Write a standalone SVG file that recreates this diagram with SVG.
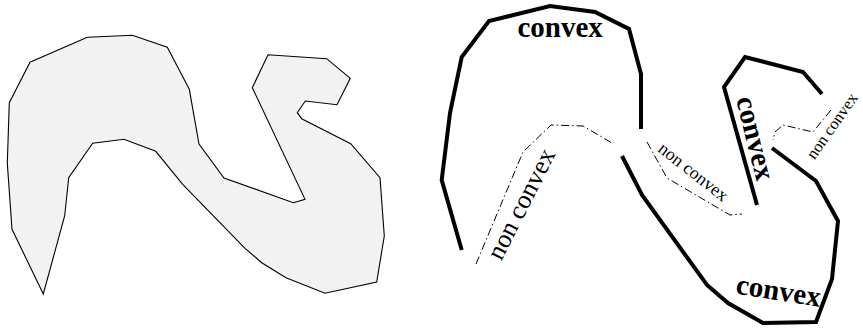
<svg xmlns="http://www.w3.org/2000/svg" width="863" height="330" viewBox="0 0 863 330">
<style>
.poly{fill:#f2f2f2;stroke:#000;stroke-width:1.1;stroke-linejoin:miter}
.thick{fill:none;stroke:#000;stroke-width:4;stroke-linejoin:miter}
.dd{fill:none;stroke:#000;stroke-width:1;stroke-dasharray:8 3 1.5 3}
.bold{font-family:"Liberation Serif","Times New Roman",serif;font-weight:bold;font-size:29px;fill:#000}
.reg{font-family:"Liberation Serif","Times New Roman",serif;font-size:18px;fill:#000}
</style>
<rect width="863" height="330" fill="#fff"/>
<g id="polygon">
<polygon class="poly" points="43.3,294 12,229.3 7.3,163.3 9.3,102.7 30,62.3 87.3,37.3 132.3,35.3 167.3,47.3 189.3,89.3 199,144 224,178 293.3,202.7 305,199.3 252.3,87.7 268,54.7 326.7,58.7 350.3,78.3 337,104.7 305.3,101 297.3,112.7 301.7,118.7 350.7,143.7 380,177.7 384.3,236 376.7,282 325,293.3 286,277.7 261.7,262.7 245,248.3 182.7,184.3 155.7,151.3 124,139.3 92.7,143.3 68.7,177.7 64.7,215.7"/>
</g>
<g id="connectors">
<polyline class="thick" points="461.7,250 441.7,180 450,113 461.7,57 489,21 550,6 595,12 629,29 641,74 641,129"/>
<polyline class="thick" points="622,156 642,195 707,285 728,303 763,323 816,322 832,279 838,221 816,181 772,148"/>
<polyline class="thick" points="757,205 724,87 745,57 803,72 822,94"/>
<polyline class="dd" points="476,264 523,152 551,125 583,126 612,143"/>
<polyline class="dd" points="647,142 667,178 730,215 742,214"/>
<polyline class="dd" points="831,110 813,132 783,125 775,132 773,140"/>
</g>
<g id="labels">
<text class="bold" x="517.5" y="37.3">convex</text>
<text class="bold" transform="translate(736,99) rotate(76)">convex</text>
<text class="bold" transform="translate(735,293.5) rotate(9)">convex</text>
<text class="reg" style="font-size:26px" text-anchor="middle" transform="translate(528.6,207.7) rotate(-63)">non convex</text>
<text class="reg" text-anchor="middle" transform="translate(689.8,176.5) rotate(38)">non convex</text>
<text class="reg" style="font-size:16.5px" text-anchor="middle" transform="translate(836.5,129) rotate(-55)">non convex</text>
</g>
</svg>
